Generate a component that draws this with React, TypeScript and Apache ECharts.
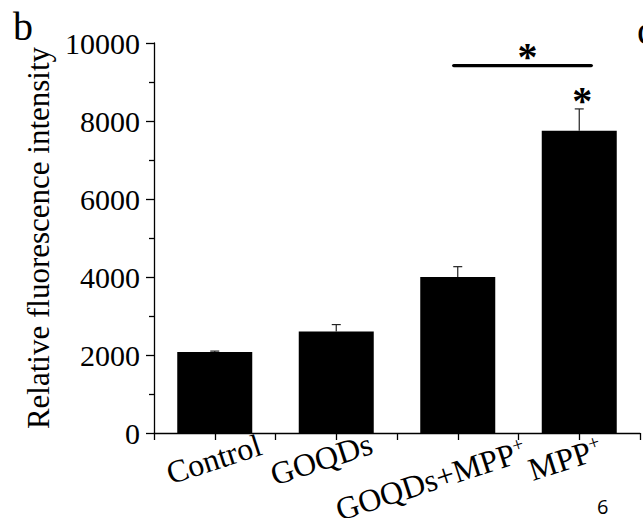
import React, { useEffect, useRef } from 'react';
import * as echarts from 'echarts';

// ---- data ----
const categories = ['Control', 'GOQDs', 'GOQDs+MPP', 'MPP'];
const superscripts = ['', '', '+', '+'];
const values = [2080, 2600, 4000, 7750];
const errors = [20, 180, 265, 560];
const yTickValues = [0, 2000, 4000, 6000, 8000, 10000];
const bracketFrom = [2];
const bracketTo = [3];
const bracketLevel = [9420];
const starOnBar = [3];

// ---- layout (not data) ----
const FONT = '"Liberation Serif", "Times New Roman", Times, serif';
const labelOffsets: [number, number][] = [
  [-1, 26],
  [-15, 26],
  [-27, 47],
  [-14, 26],
];
const LABEL_ROT = (18 * Math.PI) / 180;

export default function App() {
  const ref = useRef<HTMLDivElement>(null);
  useEffect(() => {
    if (!ref.current) return;
    const chart = echarts.init(ref.current, undefined, { renderer: 'svg' });
    const option: any = {
      animation: false,
      backgroundColor: '#fff',
      grid: { left: 154, right: 3, top: 43, bottom: 85, containLabel: false },
      xAxis: [
        {
          type: 'category',
          data: categories,
          boundaryGap: true,
          axisLine: { show: true, lineStyle: { color: '#000', width: 1.3 } },
          axisTick: { show: true, alignWithLabel: false, interval: 0, length: 7, lineStyle: { color: '#000', width: 1.3 } },
          axisLabel: { show: false },
          splitLine: { show: false },
        },
        {
          type: 'category',
          data: categories,
          position: 'bottom',
          boundaryGap: true,
          axisLine: { show: false },
          axisTick: { show: true, alignWithLabel: true, interval: 0, length: 7, lineStyle: { color: '#000', width: 1.3 } },
          axisLabel: { show: false },
          splitLine: { show: false },
        },
      ],
      yAxis: {
        type: 'value',
        min: yTickValues[0],
        max: yTickValues[yTickValues.length - 1],
        interval: yTickValues[1] - yTickValues[0],
        axisLine: { show: true, lineStyle: { color: '#000', width: 1.3 } },
        axisTick: { show: true, inside: false, length: 8, lineStyle: { color: '#000', width: 1.3 } },
        minorTick: { show: true, splitNumber: 2, length: 5, lineStyle: { color: '#000', width: 1.3 } },
        axisLabel: { color: '#000', fontSize: 30, fontFamily: FONT, margin: 14, formatter: (v: number) => String(v) },
        splitLine: { show: false },
        name: 'Relative fluorescence intensity',
        nameLocation: 'middle',
        nameRotate: 90,
        nameGap: 88,
        nameTextStyle: { color: '#000', fontSize: 31, fontFamily: FONT },
      },
      series: [
        {
          type: 'bar',
          data: values,
          barWidth: 75,
          itemStyle: { color: '#000' },
          z: 2,
        },
        {
          type: 'custom',
          data: values.map((v, i) => [i, v, errors[i]]),
          z: 3,
          renderItem: (params: any, api: any) => {
            const x = api.value(0);
            const v = api.value(1);
            const e = api.value(2);
            const base = api.coord([x, v]);
            const top = api.coord([x, v + e]);
            return {
              type: 'group',
              children: [
                { type: 'line', shape: { x1: base[0], y1: base[1], x2: top[0], y2: top[1] }, style: { stroke: '#222', lineWidth: 1.2 } },
                { type: 'line', shape: { x1: top[0] - 4.5, y1: top[1], x2: top[0] + 4.5, y2: top[1] }, style: { stroke: '#222', lineWidth: 1.2 } },
              ],
            };
          },
        },
        {
          type: 'custom',
          data: bracketFrom.map((f, i) => [f, bracketTo[i], bracketLevel[i]]),
          z: 3,
          renderItem: (params: any, api: any) => {
            const a = api.coord([api.value(0), api.value(2)]);
            const b = api.coord([api.value(1), api.value(2)]);
            const x1 = a[0] - 4;
            const x2 = b[0] + 12;
            return {
              type: 'group',
              children: [
                { type: 'line', shape: { x1, y1: a[1], x2, y2: a[1] }, style: { stroke: '#000', lineWidth: 3.4, lineCap: 'round' } },
                { type: 'text', x: (x1 + x2) / 2 + 5, y: a[1] - 9, style: { text: '*', fontSize: 40, fontWeight: 'bold', fontFamily: FONT, fill: '#000', align: 'center', verticalAlign: 'middle' } },
              ],
            };
          },
        },
        {
          type: 'custom',
          data: starOnBar.map((i) => [i, values[i] + errors[i]]),
          z: 3,
          renderItem: (params: any, api: any) => {
            const p = api.coord([api.value(0), api.value(1)]);
            return {
              type: 'text',
              x: p[0] + 3,
              y: p[1] - 8,
              style: { text: '*', fontSize: 40, fontWeight: 'bold', fontFamily: FONT, fill: '#000', align: 'center', verticalAlign: 'middle' },
            };
          },
        },
      ],
    };
    chart.setOption(option);

    const labelGraphics = categories.map((c, i) => {
      const px = chart.convertToPixel({ xAxisIndex: 0 }, i) as any;
      const py = chart.convertToPixel({ yAxisIndex: 0 }, 0) as any;
      const sup = superscripts[i];
      return {
        type: 'text',
        x: px + labelOffsets[i][0],
        y: py + labelOffsets[i][1],
        rotation: LABEL_ROT,
        style: {
          text: sup ? `{m|${c}}{s|${sup}}` : `{m|${c}}`,
          rich: {
            m: { fontSize: 32, fontFamily: FONT, fill: '#000', lineHeight: 34 },
            s: { fontSize: 20, fontFamily: FONT, fill: '#000', verticalAlign: 'top', lineHeight: 34 },
          },
          align: 'center',
          verticalAlign: 'middle',
        },
      };
    });

    chart.setOption({
      graphic: [
        ...labelGraphics,
        { type: 'text', left: 13, top: 6, style: { text: 'b', fontSize: 40, fontFamily: FONT, fill: '#000' } },
        { type: 'text', left: 637, top: 10, style: { text: 'c', fontSize: 40, fontFamily: FONT, fill: '#000' } },
        { type: 'text', left: 597, top: 496, style: { text: '6', fontSize: 20, fontFamily: '"Open Sans", "Noto Sans", sans-serif', fill: '#000' } },
      ],
    });

    return () => chart.dispose();
  }, []);
  return <div ref={ref} style={{ position: 'fixed', left: 0, top: 0, width: 643, height: 518 }} />;
}
